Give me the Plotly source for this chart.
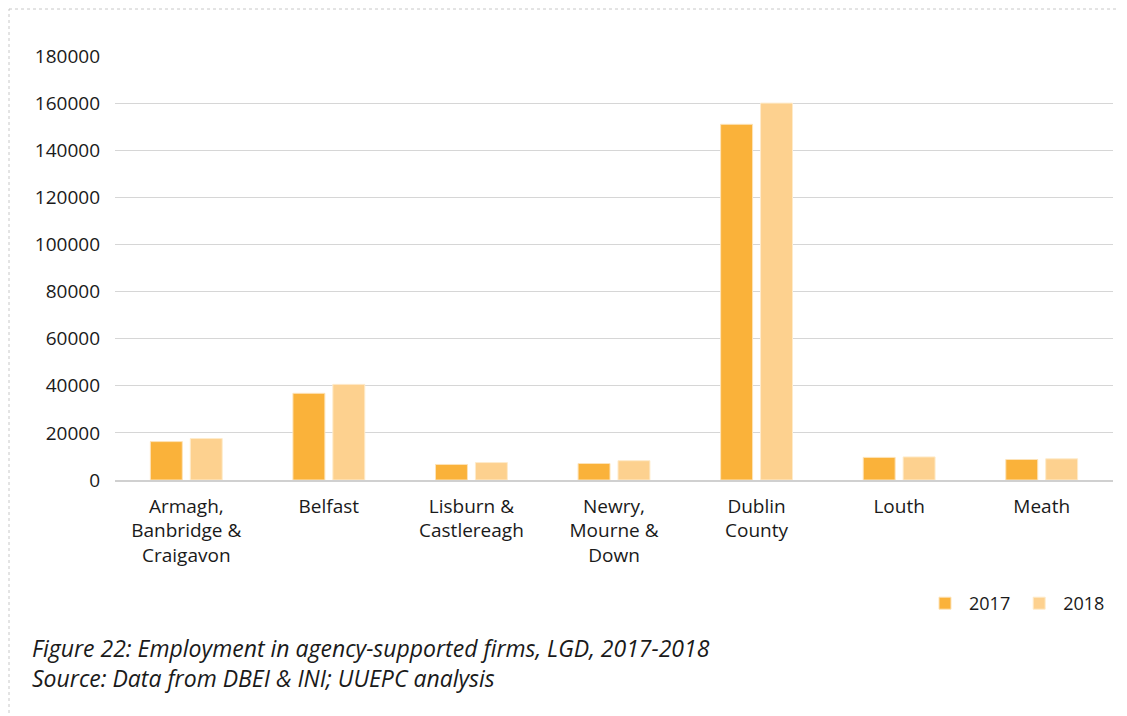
import plotly.graph_objects as go

categories = ["Armagh,<br>Banbridge &<br>Craigavon", "Belfast", "Lisburn &<br>Castlereagh",
              "Newry,<br>Mourne &<br>Down", "Dublin<br>County", "Louth", "Meath"]
v2017 = [16300, 36800, 6600, 7000, 151000, 9600, 8700]
v2018 = [17600, 40600, 7400, 8200, 160000, 9800, 9000]
years = ["2017", "2018"]
tick_vals = [0, 20000, 40000, 60000, 80000, 100000, 120000, 140000, 160000, 180000]

FONT = "Open Sans"
OFF = 8  # page body margin
W, H = 1127 - OFF, 716 - OFF
ML, MR, MT, MB = 107, 14, 48, 236
pw, ph = W - ML - MR, H - MT - MB

def px(x):  # screen x -> paper
    return (x - OFF - ML) / pw

def py(y):  # screen y -> paper
    return (H - MB - (y - OFF)) / ph

fig = go.Figure()
fig.add_trace(go.Bar(x=categories, y=v2017, name=years[0],
                     marker=dict(color="#FAB23A", line=dict(color="#FDE3B8", width=1))))
fig.add_trace(go.Bar(x=categories, y=v2018, name=years[1],
                     marker=dict(color="#FDD18F", line=dict(color="#FEEBCB", width=1))))

fig.update_layout(
    width=W, height=H,
    margin=dict(l=ML, r=MR, t=MT, b=MB),
    paper_bgcolor="white", plot_bgcolor="white",
    font=dict(family=FONT, size=19, color="#1a1a1a"),
    barmode="group", bargap=0.44, bargroupgap=0.2,
    showlegend=True,
    legend=dict(orientation="h", x=px(921), y=py(585), xanchor="left", yanchor="top",
                font=dict(size=18), itemwidth=38, traceorder="normal"),
    xaxis=dict(showgrid=False, showline=True, linecolor="#d0d0d0", linewidth=1.5,
               ticks="", tickfont=dict(size=19), fixedrange=True, ticklabelstandoff=8),
    yaxis=dict(range=[0, 180000], tickvals=tick_vals, ticktext=[str(t) for t in tick_vals],
               showgrid=True, gridcolor="#d6d6d6", gridwidth=1.2, zeroline=False,
               showline=False, ticks="", tickfont=dict(size=19), ticklabelstandoff=14),
    shapes=[dict(type="rect", xref="paper", yref="paper",
                 x0=px(9), x1=px(1125), y0=py(9), y1=py(730),
                 line=dict(color="#c8c8c8", width=1, dash="dot"), fillcolor="rgba(0,0,0,0)")],
    annotations=[
        dict(text="<i>Figure 22: Employment in agency-supported firms, LGD, 2017-2018</i>",
             xref="paper", yref="paper", x=px(30), y=py(648), xanchor="left", yanchor="middle",
             showarrow=False, font=dict(size=23, color="#1a1a1a")),
        dict(text="<i>Source: Data from DBEI & INI; UUEPC analysis</i>",
             xref="paper", yref="paper", x=px(30), y=py(678), xanchor="left", yanchor="middle",
             showarrow=False, font=dict(size=23, color="#1a1a1a")),
    ],
)

fig.write_html("out.html")
